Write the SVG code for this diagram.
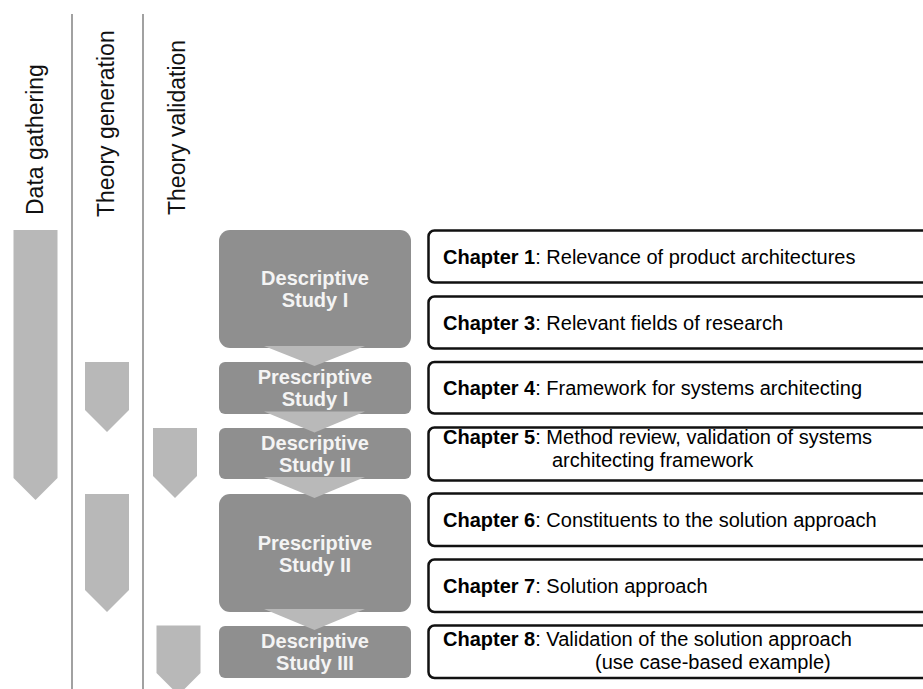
<svg xmlns="http://www.w3.org/2000/svg" width="923" height="689" viewBox="0 0 923 689">
  <style>
    .lane { stroke: #8a8a8a; stroke-width: 1.6; fill: none; }
    .lane-label { font-family: "Liberation Sans", Arial, sans-serif; font-size: 23px; fill: #111; }
    .bar { fill: #b8b8b8; }
    .stage { fill: #8f8f8f; }
    .stage-label { font-family: "Liberation Sans", Arial, sans-serif; font-size: 20px; font-weight: bold; fill: #f4f4f4; text-anchor: middle; }
    .flow { fill: #b9b9b9; }
    .chapter { fill: #fff; stroke: #111; stroke-width: 2.5; }
    .chapter-label { font-family: "Liberation Sans", Arial, sans-serif; font-size: 20px; fill: #000; }
    .chapter-label .num { font-weight: bold; }
  </style>

  <rect width="923" height="689" fill="#fff"/>

  <!-- lane separators -->
  <g id="lanes">
    <line class="lane" x1="72" y1="14" x2="72" y2="689"/>
    <line class="lane" x1="143" y1="14" x2="143" y2="689"/>
  </g>

  <!-- lane headings -->
  <g id="lane-headings">
    <text class="lane-label" transform="translate(43,215) rotate(-90)">Data gathering</text>
    <text class="lane-label" transform="translate(114,217) rotate(-90)">Theory generation</text>
    <text class="lane-label" transform="translate(185,215) rotate(-90)">Theory validation</text>
  </g>

  <!-- activity bars per lane -->
  <g id="bar-data-gathering">
    <polygon class="bar" points="13.5,230 57.5,230 57.5,478 35.5,500 13.5,478"/>
  </g>
  <g id="bar-theory-generation-1">
    <polygon class="bar" points="85,362 129,362 129,410 107,432 85,410"/>
  </g>
  <g id="bar-theory-generation-2">
    <polygon class="bar" points="85,494 129,494 129,590 107,612 85,590"/>
  </g>
  <g id="bar-theory-validation-1">
    <polygon class="bar" points="153,428 197,428 197,476 175,498 153,476"/>
  </g>
  <g id="bar-theory-validation-2">
    <polygon class="bar" points="156.5,625.5 200.5,625.5 200.5,673 178.5,695 156.5,673"/>
  </g>

  <!-- research stages -->
  <g id="stage-ds1">
    <rect class="stage" x="219" y="230" width="192" height="118" rx="11"/>
    <text class="stage-label" x="315" y="285">Descriptive</text>
    <text class="stage-label" x="315" y="307">Study I</text>
  </g>
  <g id="stage-ps1">
    <rect class="stage" x="219" y="362" width="192" height="52" rx="6"/>
    <text class="stage-label" x="315" y="384">Prescriptive</text>
    <text class="stage-label" x="315" y="406">Study I</text>
  </g>
  <g id="stage-ds2">
    <rect class="stage" x="219" y="428" width="192" height="51" rx="6"/>
    <text class="stage-label" x="315" y="450">Descriptive</text>
    <text class="stage-label" x="315" y="472">Study II</text>
  </g>
  <g id="stage-ps2">
    <rect class="stage" x="219" y="494" width="192" height="118" rx="11"/>
    <text class="stage-label" x="315" y="550">Prescriptive</text>
    <text class="stage-label" x="315" y="572">Study II</text>
  </g>
  <g id="stage-ds3">
    <rect class="stage" x="219" y="626" width="192" height="52" rx="6"/>
    <text class="stage-label" x="315" y="648">Descriptive</text>
    <text class="stage-label" x="315" y="670">Study III</text>
  </g>

  <!-- flow between stages -->
  <g id="connectors">
    <polygon class="flow" points="264,346 365,346 314.5,366"/>
    <polygon class="flow" points="264,411.5 365,411.5 314.5,432.5"/>
    <polygon class="flow" points="264,477 365,477 314.5,498"/>
    <polygon class="flow" points="264,609 365,609 314.5,630"/>
  </g>

  <!-- chapters -->
  <g id="chapter-1">
    <rect class="chapter" x="428.5" y="230.5" width="520" height="52" rx="6"/>
    <text class="chapter-label" x="443" y="264"><tspan class="num">Chapter 1</tspan>: Relevance of product architectures</text>
  </g>
  <g id="chapter-3">
    <rect class="chapter" x="428.5" y="296.5" width="520" height="52" rx="6"/>
    <text class="chapter-label" x="443" y="330"><tspan class="num">Chapter 3</tspan>: Relevant fields of research</text>
  </g>
  <g id="chapter-4">
    <rect class="chapter" x="428.5" y="362" width="520" height="51.5" rx="6"/>
    <text class="chapter-label" x="443" y="395"><tspan class="num">Chapter 4</tspan>: Framework for systems architecting</text>
  </g>
  <g id="chapter-5">
    <rect class="chapter" x="428.5" y="427.5" width="520" height="53" rx="6"/>
    <text class="chapter-label" x="443" y="444"><tspan class="num">Chapter 5</tspan>: Method review, validation of systems</text>
    <text class="chapter-label" x="552" y="467">architecting framework</text>
  </g>
  <g id="chapter-6">
    <rect class="chapter" x="428.5" y="493.5" width="520" height="52.5" rx="6"/>
    <text class="chapter-label" x="443" y="527"><tspan class="num">Chapter 6</tspan>: Constituents to the solution approach</text>
  </g>
  <g id="chapter-7">
    <rect class="chapter" x="428.5" y="559.5" width="520" height="52.5" rx="6"/>
    <text class="chapter-label" x="443" y="593"><tspan class="num">Chapter 7</tspan>: Solution approach</text>
  </g>
  <g id="chapter-8">
    <rect class="chapter" x="428.5" y="625.5" width="520" height="52.5" rx="6"/>
    <text class="chapter-label" x="443" y="646"><tspan class="num">Chapter 8</tspan>: Validation of the solution approach</text>
    <text class="chapter-label" x="595" y="669">(use case-based example)</text>
  </g>
</svg>
